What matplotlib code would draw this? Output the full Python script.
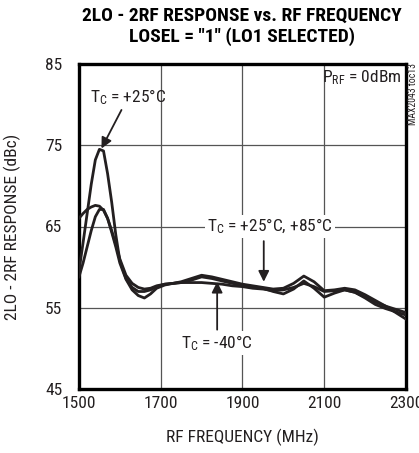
import matplotlib
matplotlib.use('Agg')
import matplotlib.pyplot as plt

# data (RF frequency in MHz, response in dBc)
freq = [1500, 1510, 1520, 1530, 1540, 1550, 1560, 1570, 1580, 1590, 1600, 1615,
        1630, 1645, 1660, 1675, 1690, 1710, 1730, 1750, 1775, 1800, 1825, 1850,
        1875, 1900, 1925, 1950, 1975, 2000, 2025, 2050, 2075, 2100, 2125, 2150,
        2175, 2200, 2225, 2250, 2275, 2300]
resp_p25 = [59.5, 63.0, 66.6, 70.2, 73.2, 74.5, 74.3, 71.5, 68.0, 64.0, 60.8, 58.6,
            57.5, 57.0, 57.0, 57.2, 57.6, 57.9, 58.0, 58.2, 58.6, 59.0, 58.8, 58.5,
            58.2, 57.9, 57.7, 57.5, 57.3, 57.4, 58.0, 58.9, 58.2, 57.1, 57.2, 57.4,
            57.2, 56.6, 55.9, 55.2, 54.4, 53.6]
resp_m40 = [66.0, 66.6, 67.1, 67.4, 67.6, 67.5, 67.0, 66.0, 64.5, 62.8, 61.0, 59.0,
            58.0, 57.5, 57.3, 57.4, 57.7, 57.9, 58.0, 58.1, 58.1, 58.1, 58.0, 57.9,
            57.7, 57.6, 57.4, 57.3, 57.1, 57.2, 57.5, 58.0, 57.6, 57.0, 57.1, 57.2,
            56.9, 56.3, 55.7, 55.2, 54.8, 54.4]
resp_p85 = [58.8, 60.5, 62.5, 64.5, 66.2, 67.1, 67.1, 66.0, 64.3, 62.5, 60.5, 58.5,
            57.2, 56.5, 56.2, 56.7, 57.4, 57.8, 58.0, 58.1, 58.4, 58.8, 58.6, 58.3,
            58.0, 57.8, 57.6, 57.4, 57.0, 56.7, 57.3, 58.3, 57.4, 56.3, 56.8, 57.2,
            56.9, 56.2, 55.4, 54.9, 54.5, 54.1]

xticks = [1500, 1700, 1900, 2100, 2300]
yticks = [45, 55, 65, 75, 85]

ink = '#231f20'
plt.rcParams['font.family'] = ['Roboto Condensed', 'DejaVu Sans']
plt.rcParams['mathtext.fontset'] = 'custom'
plt.rcParams['mathtext.rm'] = 'Roboto Condensed'
plt.rcParams['mathtext.it'] = 'Roboto Condensed'

fig = plt.figure(figsize=(4.19, 4.53), dpi=100)
ax = fig.add_axes([0.1885, 0.1413, 0.7805, 0.7174])

for r in (resp_m40, resp_p85, resp_p25):
    ax.plot(freq, r, color=ink, lw=2.0, solid_joinstyle='round', zorder=3)

ax.set_xlim(1500, 2300)
ax.set_ylim(45, 85)
ax.set_xticks(xticks)
ax.set_yticks(yticks)
ax.grid(True, color='#555555', lw=0.9)
ax.tick_params(length=0, labelsize=12.5, colors=ink)
ax.tick_params(axis='x', pad=5)
ax.tick_params(axis='y', pad=12)
for s in ax.spines.values():
    s.set_linewidth(2.4)
    s.set_color('black')

ax.set_xlabel('RF FREQUENCY (MHz)', fontsize=12.5, color=ink, labelpad=13)
ax.set_ylabel('2LO - 2RF RESPONSE (dBc)', fontsize=12.5, color=ink)
ax.yaxis.set_label_coords(-0.177, 0.5)
fig.text(0.578, 0.985, '2LO - 2RF RESPONSE vs. RF FREQUENCY\nLOSEL = "1" (LO1 SELECTED)',
         ha='center', va='top', fontsize=14, fontweight='bold', color='black',
         linespacing=1.15)

arr = dict(arrowstyle='-|>', color=ink, lw=1.3, mutation_scale=16, shrinkA=0, shrinkB=0)
ax.annotate(r'T$_\mathrm{C}$ = +25°C', xy=(1555, 74.6), xytext=(1620, 80.9),
            ha='center', va='center', fontsize=12.5, color=ink, arrowprops=arr)
ax.text(1968, 65, r'T$_\mathrm{C}$ = +25°C, +85°C', ha='center', va='center',
        fontsize=12.5, color=ink, zorder=4,
        bbox=dict(facecolor='white', edgecolor='none', pad=1.5))
ax.annotate('', xy=(1952, 58.2), xytext=(1952, 63.2), arrowprops=arr)
ax.text(1838, 50.7, r'T$_\mathrm{C}$ = -40°C', ha='center', va='center',
        fontsize=12.5, color=ink, zorder=4,
        bbox=dict(facecolor='white', edgecolor='none', pad=1.5))
ax.annotate('', xy=(1838, 58.2), xytext=(1838, 52.3), arrowprops=arr)
ax.text(2288, 83.3, r'P$_\mathrm{RF}$ = 0dBm', ha='right', va='center',
        fontsize=12.5, color=ink)
fig.text(0.986, 0.86, 'MAX2043 toc13', rotation=90, ha='center', va='top',
         fontsize=7, color=ink)

fig.savefig('out.png', dpi=100)
